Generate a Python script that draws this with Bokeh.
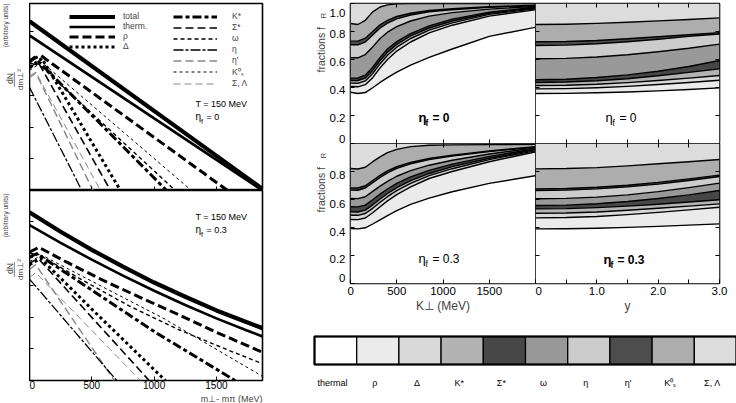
import math
from bokeh.plotting import figure
from bokeh.models import (LinearAxis, LogAxis, FixedTicker, Range1d, Label, Title,
                          Legend, LegendItem, ColumnDataSource)
from bokeh.layouts import row, column
from bokeh.embed import file_html
from bokeh.resources import INLINE
from bokeh.core.properties import value

FONT = "Liberation Sans"

# ---------------------------------------------------------------- data
species = ["thermal", "ρ", "Δ", "K*", "Σ*", "ω", "η", "η'", "K⁰ₛ", "Σ, Λ"]
species_colors = ["#ffffff", "#ebebeb", "#d9d9d9", "#b3b3b3", "#474747",
                  "#999999", "#cccccc", "#4d4d4d", "#adadad", "#dcdcdc"]

# left panels: dN/dm_perp^2 (arbitrary units) vs m_perp - m_pi (MeV)
spectra_eta0 = {
    "total":  ([0, 1870], [2.19e5, 1.12]),
    "therm.": ([0, 1870], [7.76e4, 1.0]),
    "ρ":      ([0, 90, 1590], [1.26e4, 1.82e4, 1.0]),
    "Δ":      ([0, 100, 730], [7.9e3, 1.45e4, 1.0]),
    "K*":     ([0, 40, 1100], [1.1e4, 1.58e4, 1.0]),
    "Σ*":     ([0, 70, 650], [7.9e3, 1.1e4, 1.0]),
    "ω":      ([0, 70, 1170], [7.1e3, 1.0e4, 1.0]),
    "η":      ([0, 420], [1.8e3, 1.0]),
    "η'":     ([0, 50, 510], [4.0e3, 5.2e3, 1.0]),
    "K⁰ₛ":    ([0, 100, 1300], [6.2e3, 1.1e4, 1.0]),
    "Σ, Λ":   ([0, 55, 570], [3.5e3, 5.0e3, 1.0]),
}
spectra_eta03 = {
    "total":  ([0, 250, 500, 750, 1000, 1250, 1500, 1750, 1870],
               [2.0e5, 4.9e4, 1.32e4, 3.89e3, 1.23e3, 437, 162, 67.6, 44.7]),
    "therm.": ([0, 250, 500, 750, 1000, 1250, 1500, 1750, 1870],
               [7.94e4, 2.19e4, 6.46e3, 2.04e3, 676, 240, 91.2, 37.2, 24.5]),
    "ρ":      ([0, 75, 300, 600, 900, 1200, 1500, 1870],
               [1.12e4, 1.58e4, 5.37e3, 1.38e3, 398, 117, 33.1, 7.76]),
    "Δ":      ([0, 90, 500, 1090], [4.47e3, 7.08e3, 178, 1.0]),
    "K*":     ([0, 60, 500, 1010, 1650], [7.94e3, 1.0e4, 708, 33.1, 1.0]),
    "Σ*":     ([0, 70, 960], [5.0e3, 7.08e3, 1.0]),
    "ω":      ([0, 70, 400, 800, 1200, 1600, 1870],
               [7.08e3, 9.55e3, 1.66e3, 224, 39.8, 8.91, 3.39]),
    "η":      ([0, 700], [1.58e3, 1.0]),
    "η'":     ([0, 50, 680], [3.16e3, 4.47e3, 1.0]),
    "K⁰ₛ":    ([0, 100, 500, 1080, 1870], [5.62e3, 8.91e3, 1.35e3, 89.1, 1.35]),
    "Σ, Λ":   ([0, 50, 890], [1.78e3, 2.51e3, 1.0]),
}

# right panels: cumulative fractions (upper edge of each contribution)
kperp = [0, 80, 160, 240, 320, 400, 500, 650, 850, 1100, 1500, 2000]
frac_k_eta0 = {
    "thermal": [.366, .357, .364, .398, .436, .470, .510, .560, .615, .675, .765, .830],
    "ρ":       [.407, .405, .420, .470, .540, .600, .660, .725, .790, .845, .910, .955],
    "Δ":       [.431, .430, .447, .500, .570, .630, .688, .750, .810, .862, .922, .962],
    "K*":      [.450, .450, .468, .522, .593, .652, .708, .768, .825, .875, .930, .968],
    "Σ*":      [.467, .468, .488, .545, .615, .675, .728, .785, .840, .888, .938, .975],
    "ω":       [.612, .612, .635, .690, .750, .795, .835, .875, .910, .935, .960, .980],
    "η":       [.705, .705, .725, .775, .825, .860, .890, .918, .940, .955, .972, .985],
    "η'":      [.731, .731, .752, .800, .848, .880, .907, .930, .950, .963, .977, .988],
    "K⁰ₛ":     [.857, .850, .880, .940, .975, .990, .997, 1.0, 1.0, 1.0, 1.0, 1.0],
}
frac_k_eta03 = {
    "thermal": [.393, .390, .398, .425, .455, .485, .520, .565, .610, .655, .715, .770],
    "ρ":       [.457, .456, .468, .505, .548, .590, .635, .690, .750, .800, .870, .940],
    "Δ":       [.488, .487, .500, .537, .580, .620, .663, .715, .770, .820, .885, .948],
    "K*":      [.512, .511, .524, .562, .604, .643, .685, .735, .786, .835, .895, .955],
    "Σ*":      [.548, .547, .560, .598, .638, .675, .715, .762, .808, .853, .908, .962],
    "ω":       [.607, .606, .620, .658, .696, .730, .766, .806, .845, .880, .925, .968],
    "η":       [.667, .666, .682, .720, .757, .790, .822, .855, .885, .910, .942, .974],
    "η'":      [.683, .682, .698, .736, .772, .804, .834, .865, .893, .917, .947, .978],
    "K⁰ₛ":     [.821, .818, .830, .870, .905, .935, .958, .978, .988, .990, .992, .995],
}
rapidity = [0, 0.5, 1.0, 1.5, 2.0, 2.5, 3.0]
frac_y_eta0 = {
    "thermal": [.357, .358, .362, .368, .376, .386, .397],
    "ρ":       [.390, .392, .398, .408, .421, .436, .452],
    "Δ":       [.414, .416, .423, .435, .450, .467, .486],
    "K*":      [.436, .439, .448, .463, .484, .508, .533],
    "Σ*":      [.455, .459, .471, .490, .516, .550, .593],
    "ω":       [.605, .608, .618, .634, .655, .680, .710],
    "η":       [.700, .703, .712, .727, .745, .765, .782],
    "η'":      [.727, .729, .736, .748, .762, .777, .792],
    "K⁰ₛ":     [.850, .852, .858, .866, .876, .886, .897],
}
frac_y_eta03 = {
    "thermal": [.390, .391, .395, .401, .408, .417, .426],
    "ρ":       [.469, .471, .479, .492, .508, .526, .545],
    "Δ":       [.502, .504, .511, .523, .537, .553, .569],
    "K*":      [.533, .535, .542, .553, .566, .582, .598],
    "Σ*":      [.557, .560, .570, .586, .607, .633, .664],
    "ω":       [.605, .608, .617, .633, .656, .685, .717],
    "η":       [.664, .667, .676, .690, .710, .736, .764],
    "η'":      [.676, .679, .688, .702, .722, .747, .774],
    "K⁰ₛ":     [.819, .821, .828, .840, .855, .870, .886],
}
frac_ticks = [0, 0.2, 0.4, 0.6, 0.8, 1.0]
frac_tick_labels = ["0", "0.2", "0.4", "0.6", "0.8", "1.0"]

# ---------------------------------------------------------------- styles
line_styles = {
    "total":  dict(line_width=4.2),
    "therm.": dict(line_width=2.6),
    "ρ":      dict(line_width=3, line_dash="9 4"),
    "Δ":      dict(line_width=3, line_dash="3 3"),
    "K*":     dict(line_width=3, line_dash="9 3 4 3"),
    "Σ*":     dict(line_width=1.6, line_dash="8 4"),
    "ω":      dict(line_width=1.4, line_dash="4 3"),
    "η":      dict(line_width=1.3, line_dash="10 2 3 2"),
    "η'":     dict(line_width=1.5, line_dash="8 4", line_color="#8a8a8a"),
    "K⁰ₛ":    dict(line_width=1.0, line_dash="3 3"),
    "Σ, Λ":   dict(line_width=1.0, line_dash="7 4", line_color="#8a8a8a"),
}
draw_order = ["Σ, Λ", "K⁰ₛ", "η'", "η", "ω", "Σ*", "K*", "Δ", "ρ", "therm.", "total"]


def make_fig(w, h, xr, yr, borders, ylog=False, outline=True):
    l, r, t, b = borders
    p = figure(width=w, height=h,
               x_range=xr if not isinstance(xr, tuple) else Range1d(*xr),
               y_range=yr if not isinstance(yr, tuple) else Range1d(*yr),
               y_axis_type="log" if ylog else "linear",
               x_axis_location=None, y_axis_location=None,
               toolbar_location=None, output_backend="svg",
               min_border_left=l, min_border_right=r,
               min_border_top=t, min_border_bottom=b)
    p.xgrid.visible = False
    p.ygrid.visible = False
    p.outline_line_color = "black" if outline else None
    p.outline_line_width = 1.6
    p.background_fill_color = "white"
    p.border_fill_color = "white"
    return p


def add_axis(p, side, ticks, labels=None, log=False, size=11.5, standoff=4,
             tick_len=4, axis_label=None):
    ax = (LogAxis if log else LinearAxis)(ticker=FixedTicker(ticks=ticks, minor_ticks=[]))
    ax.axis_line_color = None
    ax.major_tick_in = tick_len
    ax.major_tick_out = 0
    ax.major_tick_line_color = "black"
    ax.major_tick_line_width = 1
    ax.minor_tick_line_color = None
    if labels is None:
        ax.major_label_overrides = {t: "" for t in ticks}
        ax.major_label_text_font_size = "0px"
        ax.major_label_standoff = 0
    else:
        ax.major_label_overrides = {t: labels.get(t, "") for t in ticks}
        ax.major_label_text_font_size = f"{size}px"
        ax.major_label_text_font = FONT
        ax.major_label_text_color = "black"
        ax.major_label_standoff = standoff
    if axis_label:
        ax.axis_label = axis_label
        ax.axis_label_text_font = FONT
        ax.axis_label_text_font_size = "12px"
        ax.axis_label_text_font_style = "normal"
        ax.axis_label_standoff = 1
    p.add_layout(ax, side)


def add_text(p, frame, x, y, text, size, align="left", baseline="middle",
             angle=0.0, style="normal", color="black", font=FONT):
    """Text inside a frame; (x, y) are page pixels, frame = (left, bottom) of the frame."""
    fl, fb = frame
    p.add_layout(Label(x=x - fl, y=fb - y, x_units="screen", y_units="screen",
                       text=text, text_font=font, text_font_size=f"{size}px",
                       text_align=align, text_baseline=baseline, angle=angle,
                       text_font_style=style, text_color=color))


def draw_spectra(p, spectra):
    rends = {}
    for name in draw_order:
        xs, ys = spectra[name]
        st = dict(line_color="black", line_join="round")
        st.update(line_styles[name])
        rends[name] = p.line(xs, ys, **st)
    return rends


def draw_fractions(p, xs, frac):
    lower = [0.0] * len(xs)
    uppers = [frac[s] for s in species[:-1]] + [[1.0] * len(xs)]
    for col, up in zip(species_colors, uppers):
        p.varea(x=xs, y1=lower, y2=up, fill_color=col)
        lower = up
    for s in species[:-1]:
        p.line(xs, frac[s], line_color="black", line_width=1.4, line_join="round")


# ---------------------------------------------------------------- left panels
decades = [10, 100, 1e3, 1e4, 1e5]
lt = make_fig(261, 190, (0, 1870), (1.0, 7.9e5), (0, 28, 3, 0), ylog=True)
lb = make_fig(261, 213, (0, 1870), (1.0, 9.8e5), (0, 28, 0, 23), ylog=True)
F_LT, F_LB = (29, 190), (29, 380)

r_top = draw_spectra(lt, spectra_eta0)
draw_spectra(lb, spectra_eta03)

add_axis(lt, "left", decades, log=True)
add_axis(lb, "left", decades, log=True)
add_axis(lt, "below", [500, 1000, 1500])
add_axis(lb, "below", [0, 500, 1000, 1500],
         labels={0: "0", 500: "500", 1000: "1000", 1500: "1500"}, size=10, standoff=0)
lb.add_layout(Title(text="m⊥- mπ (MeV)", align="right", text_font=FONT,
                    text_font_size="9px", text_font_style="normal", standoff=0), "below")

leg1 = Legend(items=[LegendItem(label=n, renderers=[r_top[n]]) for n in ["total", "therm.", "ρ", "Δ"]],
              location=(40, 139), glyph_width=46, glyph_height=9, label_height=9,
              spacing=0, padding=0, margin=0, label_standoff=8,
              border_line_color=None, background_fill_alpha=0,
              label_text_font=FONT, label_text_font_size="8.5px")
leg2 = Legend(items=[LegendItem(label=n, renderers=[r_top[n]])
                     for n in ["K*", "Σ*", "ω", "η", "η'", "K⁰ₛ", "Σ, Λ"]],
              location=(144, 102), glyph_width=44, glyph_height=9, label_height=9,
              spacing=1, padding=0, margin=0, label_standoff=15,
              border_line_color=None, background_fill_alpha=0,
              label_text_font=FONT, label_text_font_size="8.5px")
lt.add_layout(leg1, "center")
lt.add_layout(leg2, "center")

for p, fr, dy, eta in [(lt, F_LT, 0, "0"), (lb, F_LB, 113, "0.3")]:
    add_text(p, fr, 195, 103 + dy, "T  =  150 MeV", 9)
    add_text(p, fr, 195, 116 + dy, "η", 10)
    add_text(p, fr, 200.5, 120.5 + dy, "f", 7)
    add_text(p, fr, 206, 116 + dy, "=   " + eta, 9)

# strip left of the spectra holding the y-axis title of both panels
strip_l = make_fig(29, 403, (0, 29), (0, 403), (0, 0, 0, 0), outline=False)
for dy in (0, 190):
    for x, y, t, s, f in [(5, 25, "(arbitrary units)", 6.5, FONT),
                          (9, 78, "dN", 8.5, FONT),
                          (14, 79, "───", 8, "DejaVu Sans Mono"),
                          (20, 79, "dm⊥²", 8, FONT)]:
        strip_l.add_layout(Label(x=x, y=403 - (y + dy), text=t, text_font=f,
                                 text_font_size=f"{s}px", text_align="center",
                                 text_baseline="middle", angle=math.pi / 2))

# ---------------------------------------------------------------- right panels
rtk = make_fig(188, 143, (0, 2000), (0, 1), (3, 0, 3, 0))
rty = make_fig(201, 143, (0, 3.0), (0, 1), (0, 17, 3, 0))
rbk = make_fig(188, 175, (0, 2000), (0, 1), (3, 0, 0, 35))
rby = make_fig(201, 175, (0, 3.0), (0, 1), (0, 17, 0, 35))
F_RTK, F_RTY, F_RBK, F_RBY = (350, 143), (535, 143), (350, 283), (535, 283)

draw_fractions(rtk, kperp, frac_k_eta0)
draw_fractions(rbk, kperp, frac_k_eta03)
draw_fractions(rty, rapidity, frac_y_eta0)
draw_fractions(rby, rapidity, frac_y_eta03)

yticks = [0.5, 1.0, 1.5, 2.0, 2.5]
for p in (rtk, rbk):
    add_axis(p, "left", frac_ticks)
    add_axis(p, "above", [500, 1000, 1500])
add_axis(rtk, "below", [500, 1000, 1500])
add_axis(rbk, "below", [0, 500, 1000, 1500],
         labels={0: "0", 500: "500", 1000: "1000", 1500: "1500"}, size=11.5, standoff=3,
         axis_label="K⊥ (MeV)")
for p in (rty, rby):
    add_axis(p, "left", [0.2, 0.4, 0.6, 0.8])
    add_axis(p, "right", [0.2, 0.4, 0.6, 0.8])
    add_axis(p, "above", yticks)
add_axis(rty, "below", yticks)
add_axis(rby, "below", [0, 0.5, 1.0, 1.5, 2.0, 2.5, 3.0],
         labels={0: "0", 1.0: "1.0", 2.0: "2.0", 3.0: "3.0"}, size=11.5, standoff=3,
         axis_label="y")

# strips left of the fraction panels: y tick labels and y-axis title
strip_r1 = make_fig(57, 143, (0, 57), rtk.y_range, (0, 0, 3, 0), outline=False)
strip_r2 = make_fig(57, 175, (0, 57), rbk.y_range, (0, 0, 0, 35), outline=False)
for sp, offs, ticks, labs in [(strip_r1, [-5, 2, 2, 2, 2, 9], frac_ticks, frac_tick_labels),
                              (strip_r2, [-6, 3, 4, 4, 3], frac_ticks[:5], frac_tick_labels[:5])]:
    sp.text(x=55, y=ticks, text=labs, y_offset=offs, text_align="right",
            text_baseline="middle", text_font=value(FONT), text_font_size="11.5px")
    sp.add_layout(Label(x=30, y=0.507, text="fractions  f", text_font=FONT,
                        text_font_size="10.5px", text_align="left",
                        text_baseline="middle", angle=math.pi / 2))
    sp.add_layout(Label(x=33, y=0.914, text="R", text_font=FONT,
                        text_font_size="7.5px", text_align="center",
                        text_baseline="middle", angle=math.pi / 2))

eta_labels = [(rtk, F_RTK, 418, 117, "=   0", "bold"),
              (rty, F_RTY, 605, 117, "=    0", "normal"),
              (rbk, F_RBK, 418, 258, "= 0.3", "normal"),
              (rby, F_RBY, 603, 259, "=  0.3", "bold")]
for p, fr, x, y, t, style in eta_labels:
    add_text(p, fr, x, y, "η", 13, style=style)
    add_text(p, fr, x + 7, y + 5, "f", 8.5, style=style)
    add_text(p, fr, x + 14, y, t, 12, style=style)

# ---------------------------------------------------------------- legend bar
bar = make_fig(446, 85, (-0.5687, 10.0), (0, 85), (0, 0, 0, 0), outline=False)
idx = list(range(len(species)))
src = ColumnDataSource(dict(left=idx, right=[i + 1 for i in idx], xc=[i + 0.5 for i in idx],
                            color=species_colors, name=species))
bar.quad(left="left", right="right", bottom=39, top=67, fill_color="color",
         line_color="black", line_width=1.3, source=src)
bar.quad(left=[0], right=[len(species)], bottom=[39], top=[67], fill_color=None,
         line_color="black", line_width=2.2)
bar.text(x="xc", y=21, text="name", source=src, text_font=value(FONT),
         text_font_size="9px", text_align="center", text_baseline="middle",
         x_offset=-3)

root = row(row(strip_l, column(lt, lb)),
           column(row(strip_r1, rtk, rty), row(strip_r2, rbk, rby), bar))

open("out.html", "w").write(file_html(root, INLINE))
